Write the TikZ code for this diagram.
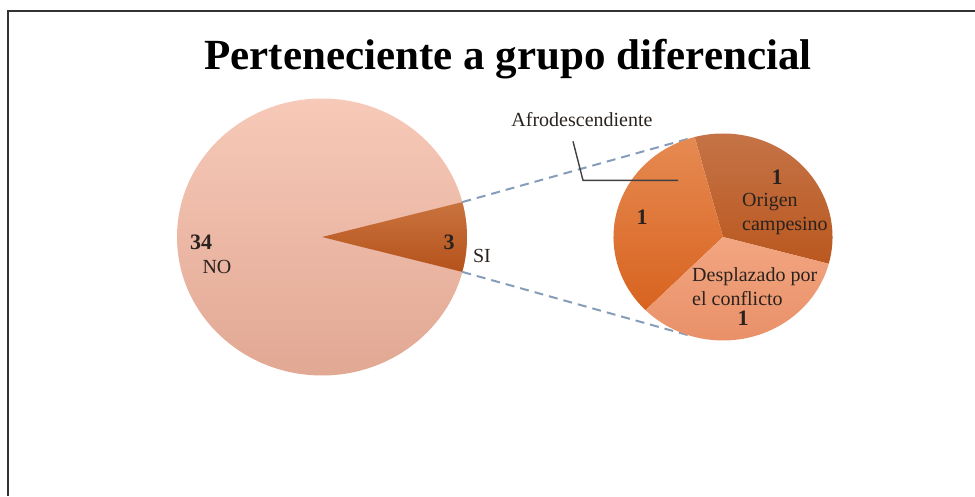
\documentclass[tikz,border=0pt]{standalone}
\usepackage{fontspec}
\setmainfont{Liberation Serif}
\definecolor{noTop}{HTML}{F7C9B8}
\definecolor{noBot}{HTML}{E1A893}
\definecolor{siTopC}{HTML}{C9733F}
\definecolor{siBotC}{HTML}{B5521B}
\definecolor{origTop}{HTML}{C57347}
\definecolor{origBot}{HTML}{BA581F}
\definecolor{afroTop}{HTML}{E68A52}
\definecolor{afroBot}{HTML}{D8631F}
\definecolor{despTop}{HTML}{F2A681}
\definecolor{despBot}{HTML}{E88E66}
\definecolor{zoomLine}{HTML}{869DBA}
\definecolor{frameGray}{HTML}{333333}
\definecolor{txt}{HTML}{2A221E}

\begin{document}
\begin{tikzpicture}[x=1pt,y=1pt,
    lbl/.style={font=\fontsize{20}{24}\selectfont, inner sep=0pt, text=txt},
    num/.style={font=\fontsize{22}{24}\selectfont\bfseries, inner sep=0pt, text=txt},
    zoomline/.style={draw=zoomLine, line width=2pt, dash pattern=on 9pt off 6pt},
    leader/.style={draw=black!75, line width=1.4pt}]
  \useasboundingbox (0,0) rectangle (975,496);
  \draw[frameGray, line width=2.8pt] (975,485) -- (8,485) -- (8,0);
  \node[font=\fontsize{43}{48}\selectfont\bfseries, anchor=base] (title) at (508,426)
    {Perteneciente a grupo diferencial};

  % main pie
  \coordinate (big) at (322,259);
  \shade[top color=noTop, bottom color=noBot] (big) ellipse [x radius=145, y radius=138.5];
  \path (big) ++(14.6:145 and 138.5) coordinate (siTop);
  \path (big) ++(-14.6:145 and 138.5) coordinate (siBot);
  \shade[top color=siTopC, bottom color=siBotC] (big) -- (siBot)
    arc[start angle=-14.6, end angle=14.6, x radius=145, y radius=138.5] -- cycle;

  % zoomed pie
  \coordinate (small) at (723,259);
  \path (small) ++(107:109.5 and 103.5) coordinate (zTop);
  \path (small) ++(-107:109.5 and 103.5) coordinate (zBot);
  \draw[zoomline] (siTop) -- (zTop);
  \draw[zoomline] (siBot) -- (zBot);
  \shade[top color=origTop, bottom color=origBot] (small) -- ++(-15:109.5 and 103.5)
    arc[start angle=-15, end angle=105, x radius=109.5, y radius=103.5] -- cycle;
  \shade[top color=afroTop, bottom color=afroBot] (small) -- ++(105:109.5 and 103.5)
    arc[start angle=105, end angle=225, x radius=109.5, y radius=103.5] -- cycle;
  \shade[top color=despTop, bottom color=despBot] (small) -- ++(225:109.5 and 103.5)
    arc[start angle=225, end angle=345, x radius=109.5, y radius=103.5] -- cycle;

  \node[num] (noNum) at (201,254) {34};
  \node[lbl] (noLbl) at (217,229) {NO};
  \node[num] (siNum) at (449,254) {3};
  \node[lbl] (siLbl) at (482,240) {SI};

  \node[lbl] (afroLbl) at (582,376) {Afrodescendiente};
  \draw[leader] ([shift={(-9,-14)}]afroLbl.south) -- ++(10,-39) -- ++(95,0);
  \node[num] (afroNum) at (642,279) {1};
  \node[num] (origNum) at (777,319) {1};
  \node[lbl, align=left, anchor=west] (origLbl) at (742,282) {Origen\\campesino};
  \node[lbl, align=left, anchor=west] (despLbl) at (692,209) {Desplazado por\\el conflicto};
  \node[num] (despNum) at (743,178) {1};
\end{tikzpicture}
\end{document}
